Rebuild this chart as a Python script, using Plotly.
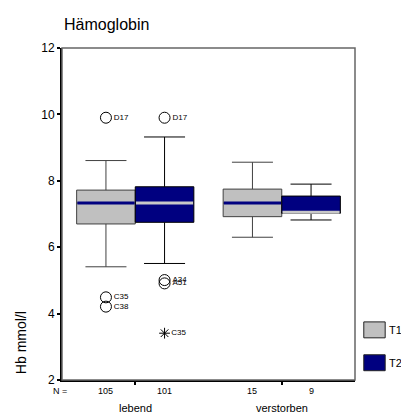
import plotly.graph_objects as go

# ---- data ----
categories = ["lebend", "verstorben"]
series = ["T1", "T2"]
n_counts = {"T1": [105, 15], "T2": [101, 9]}
q1 = {"T1": [6.70, 6.92], "T2": [6.75, 7.02]}
median = {"T1": [7.33, 7.33], "T2": [7.33, 7.05]}
q3 = {"T1": [7.72, 7.75], "T2": [7.82, 7.54]}
lower_whisker = {"T1": [5.41, 6.30], "T2": [5.51, 6.82]}
upper_whisker = {"T1": [8.61, 8.56], "T2": [9.32, 7.90]}
# outliers: (category index, value, label, kind)
outliers = {
    "T1": [(0, 9.90, "D17", "o"), (0, 4.49, "C35", "o"), (0, 4.21, "C38", "o")],
    "T2": [(0, 9.90, "D17", "o"), (0, 5.01, "A34", "o"), (0, 4.91, "A51", "o"),
           (0, 3.41, "C35", "*")],
}
y_ticks = [2, 4, 6, 8, 10, 12]

# ---- style ----
fill = {"T1": "#C0C0C0", "T2": "#000080"}
outline = {"T1": "#404040", "T2": "#000000"}
median_col = {"T1": "#000080", "T2": "#C8C8C8"}
offset = {"T1": -0.2, "T2": 0.2}
BW = 0.4
FONT = "Arial, Liberation Sans, sans-serif"

fig = go.Figure()
for s in series:
    xs = [i + offset[s] for i in range(len(categories))]
    fig.add_trace(go.Box(
        x=xs, q1=q1[s], median=median[s], q3=q3[s],
        lowerfence=lower_whisker[s], upperfence=upper_whisker[s],
        width=BW, whiskerwidth=0.7, boxpoints=False,
        fillcolor=fill[s], line=dict(color=outline[s], width=1),
        name=s, showlegend=False, hoverinfo="skip",
    ))
# median lines in contrasting colour
for s in series:
    for i in range(len(categories)):
        x0 = i + offset[s] - BW / 2
        fig.add_trace(go.Scatter(
            x=[x0 + 0.005, x0 + BW - 0.005], y=[median[s][i], median[s][i]],
            mode="lines", line=dict(color=median_col[s], width=3),
            showlegend=False, hoverinfo="skip",
        ))
# outliers
for s in series:
    for kind, sym, size in (("o", "circle-open", 11), ("*", "asterisk-open", 9)):
        pts = [o for o in outliers[s] if o[3] == kind]
        if not pts:
            continue
        fig.add_trace(go.Scatter(
            x=[p[0] + offset[s] for p in pts], y=[p[1] for p in pts],
            mode="markers+text", text=[p[2] for p in pts],
            textposition="middle right",
            textfont=dict(size=8, color="#000", family=FONT),
            marker=dict(symbol=sym, size=size, color="#000",
                        line=dict(color="#000", width=1)),
            showlegend=False, hoverinfo="skip",
        ))

annotations = [
    dict(text="Hämoglobin", xref="paper", yref="paper", x=0, y=1.0, yshift=24,
         xanchor="left", yanchor="middle", showarrow=False,
         font=dict(size=16, family=FONT, color="#000")),
    dict(text="Hb mmol/l", xref="paper", yref="paper", x=0, xshift=-41,
         y=0.111, textangle=-90, xanchor="center", yanchor="middle",
         showarrow=False, font=dict(size=14, family=FONT, color="#000")),
    dict(text="N =", xref="paper", yref="paper", x=0, xshift=-2, y=0, yshift=-11,
         xanchor="center", yanchor="middle", showarrow=False,
         font=dict(size=9, family=FONT, color="#000")),
]
for s in series:
    for i, n in enumerate(n_counts[s]):
        annotations.append(dict(
            text=str(n), xref="x", yref="paper", x=i + offset[s], y=0, yshift=-11,
            xanchor="center", yanchor="middle", showarrow=False,
            font=dict(size=9, family=FONT, color="#000")))
for i, c in enumerate(categories):
    annotations.append(dict(
        text=c, xref="x", yref="paper", x=i, y=0, yshift=-28,
        xanchor="center", yanchor="middle", showarrow=False,
        font=dict(size=11, family=FONT, color="#000")))

# custom legend
shapes = [dict(type="rect", xref="paper", yref="paper", x0=0, x1=1, y0=0, y1=1,
               line=dict(color="#666", width=1.5), layer="above")]
legend_y = [0.151, 0.052]
for s, ly in zip(series, legend_y):
    shapes.append(dict(type="rect", xref="paper", yref="paper",
                       x0=1.03, x1=1.103, y0=ly - 0.024, y1=ly + 0.024,
                       fillcolor=fill[s], line=dict(color="#222", width=1)))
    annotations.append(dict(text=s, xref="paper", yref="paper", x=1.108, y=ly,
                            xanchor="left", yanchor="middle", showarrow=False,
                            font=dict(size=11, family=FONT, color="#000")))

fig.update_layout(
    width=401, height=413,
    margin=dict(l=62, r=46, t=48, b=33),
    paper_bgcolor="white", plot_bgcolor="white",
    font=dict(family=FONT, color="#000"),
    showlegend=False,
    annotations=annotations, shapes=shapes,
    xaxis=dict(range=[-0.5, 1.5], tickvals=[0, 1], showticklabels=False,
               ticks="outside", ticklen=3, tickwidth=2, tickcolor="#000",
               showline=True, linecolor="#000", linewidth=2,
               showgrid=False, zeroline=False, fixedrange=True),
    yaxis=dict(range=[2, 12], tickvals=y_ticks, ticktext=[str(t) for t in y_ticks],
               ticks="outside", ticklen=3, tickwidth=2, tickcolor="#000",
               tickfont=dict(size=12, family=FONT, color="#000"),
               showline=True, linecolor="#000", linewidth=2,
               showgrid=False, zeroline=False, fixedrange=True),
)
fig.write_html("out.html")
